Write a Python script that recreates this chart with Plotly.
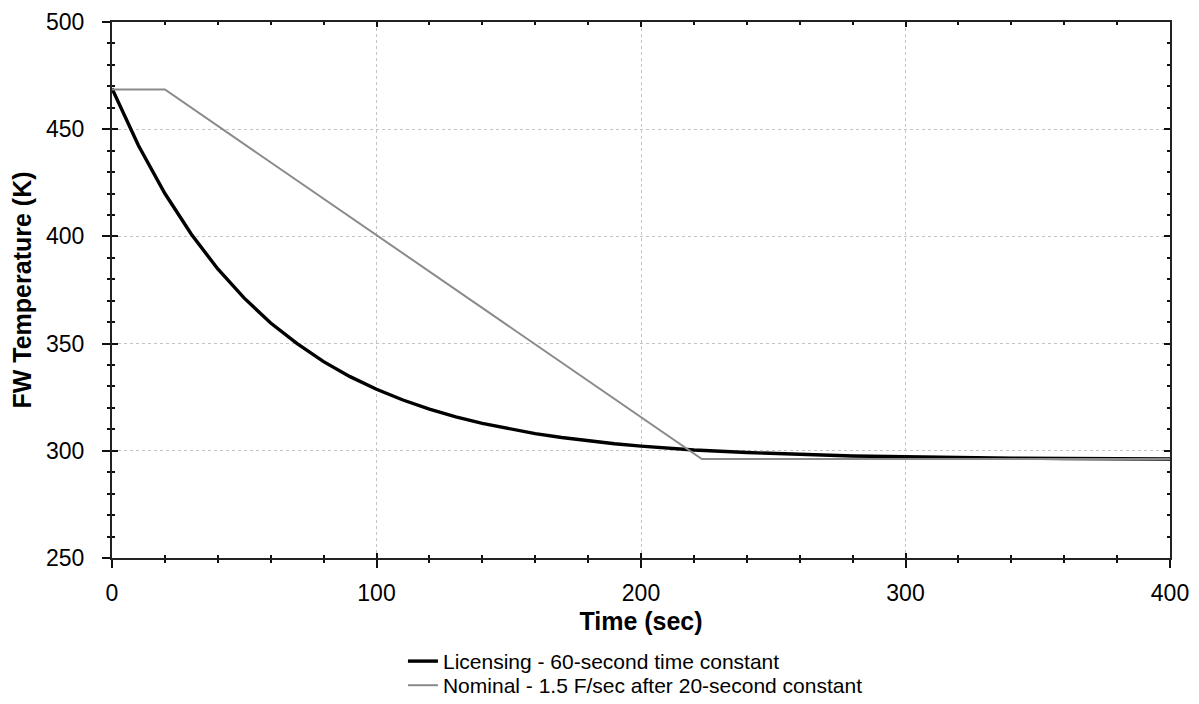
import plotly.graph_objects as go

# Licensing - 60-second time constant
lic_t = [0, 10, 20, 30, 40, 50, 60, 70, 80, 90, 100, 110, 120, 130, 140, 150,
         160, 170, 180, 190, 200, 220, 240, 260, 280, 300, 320, 340, 360, 380, 400]
lic_T = [469, 442.4, 420, 401, 384.8, 371.2, 359.6, 350, 341.6, 334.6, 328.7, 323.7,
         319.4, 315.8, 312.8, 310.2, 308, 306.2, 304.6, 303.3, 302.2, 300.4, 299.2,
         298.3, 297.6, 297.2, 296.8, 296.6, 296.4, 296.3, 296.2]

# Nominal - 1.5 F/sec after 20-second constant
nom_t = [0, 20, 223, 400]
nom_T = [468.5, 468.5, 296.2, 296.2]

x_ticks = [0, 100, 200, 300, 400]
y_ticks = [250, 300, 350, 400, 450, 500]

FONT = "Liberation Sans, Arial, sans-serif"

fig = go.Figure()
fig.add_trace(go.Scatter(x=lic_t, y=lic_T, mode="lines", line=dict(color="#000000", width=3.4),
                         name="Licensing - 60-second time constant", legend="legend"))
fig.add_trace(go.Scatter(x=nom_t, y=nom_T, mode="lines", line=dict(color="#8a8a8a", width=2),
                         name="Nominal - 1.5 F/sec after 20-second constant", legend="legend2"))
# empty trace to host the overlay axes (inside tick marks)
fig.add_trace(go.Scatter(x=[], y=[], xaxis="x2", yaxis="y2", showlegend=False, hoverinfo="skip"))

grid = dict(showgrid=True, gridcolor="#c4c4c4", gridwidth=1, griddash="dot")

leg_common = dict(x=0.275, xanchor="left", yanchor="middle", orientation="v",
                  font=dict(size=21, family=FONT), bgcolor="rgba(0,0,0,0)")

fig.update_layout(
    width=1183, height=688,
    paper_bgcolor="white", plot_bgcolor="white",
    margin=dict(l=104, r=21, t=14, b=138, autoexpand=False),
    font=dict(family=FONT, color="#000000"),
    xaxis=dict(range=[0, 400], tickvals=x_ticks, ticks="outside", ticklen=8, tickwidth=2,
               tickcolor="#111", minor=dict(dtick=20, ticks="outside", ticklen=3, tickwidth=2, tickcolor="#111"),
               showline=True, linecolor="#222", linewidth=2, mirror=True, zeroline=False,
               automargin=False, tickfont=dict(size=23), ticklabelstandoff=5,
               title=dict(text="<b>Time (sec)</b>", font=dict(size=25), standoff=8), **grid),
    yaxis=dict(range=[250, 500], tickvals=y_ticks, ticks="outside", ticklen=8, tickwidth=2,
               tickcolor="#111", minor=dict(dtick=10, ticks="outside", ticklen=3, tickwidth=2, tickcolor="#111"),
               showline=True, linecolor="#222", linewidth=2, mirror=True, zeroline=False,
               automargin=False, tickfont=dict(size=23), ticklabelstandoff=13,
               title=dict(text="<b>FW Temperature (K)</b>", font=dict(size=25), standoff=10), **grid),
    xaxis2=dict(range=[0, 400], overlaying="x", anchor="y2", side="bottom", tickvals=x_ticks,
                ticks="inside", ticklen=5, tickwidth=2, tickcolor="#111",
                minor=dict(dtick=20, ticks="inside", ticklen=3, tickwidth=2, tickcolor="#111"),
                showticklabels=False, showgrid=False, zeroline=False, showline=False, mirror="ticks",
                automargin=False),
    yaxis2=dict(range=[250, 500], overlaying="y", anchor="x2", side="left", tickvals=y_ticks,
                ticks="inside", ticklen=6, tickwidth=2, tickcolor="#111",
                minor=dict(dtick=10, ticks="inside", ticklen=3, tickwidth=2, tickcolor="#111"),
                showticklabels=False, showgrid=False, zeroline=False, showline=False, mirror="ticks",
                automargin=False),
    legend=dict(y=-0.193, **leg_common),
    legend2=dict(y=-0.238, **leg_common),
    showlegend=True,
)

fig.write_html("out.html")
